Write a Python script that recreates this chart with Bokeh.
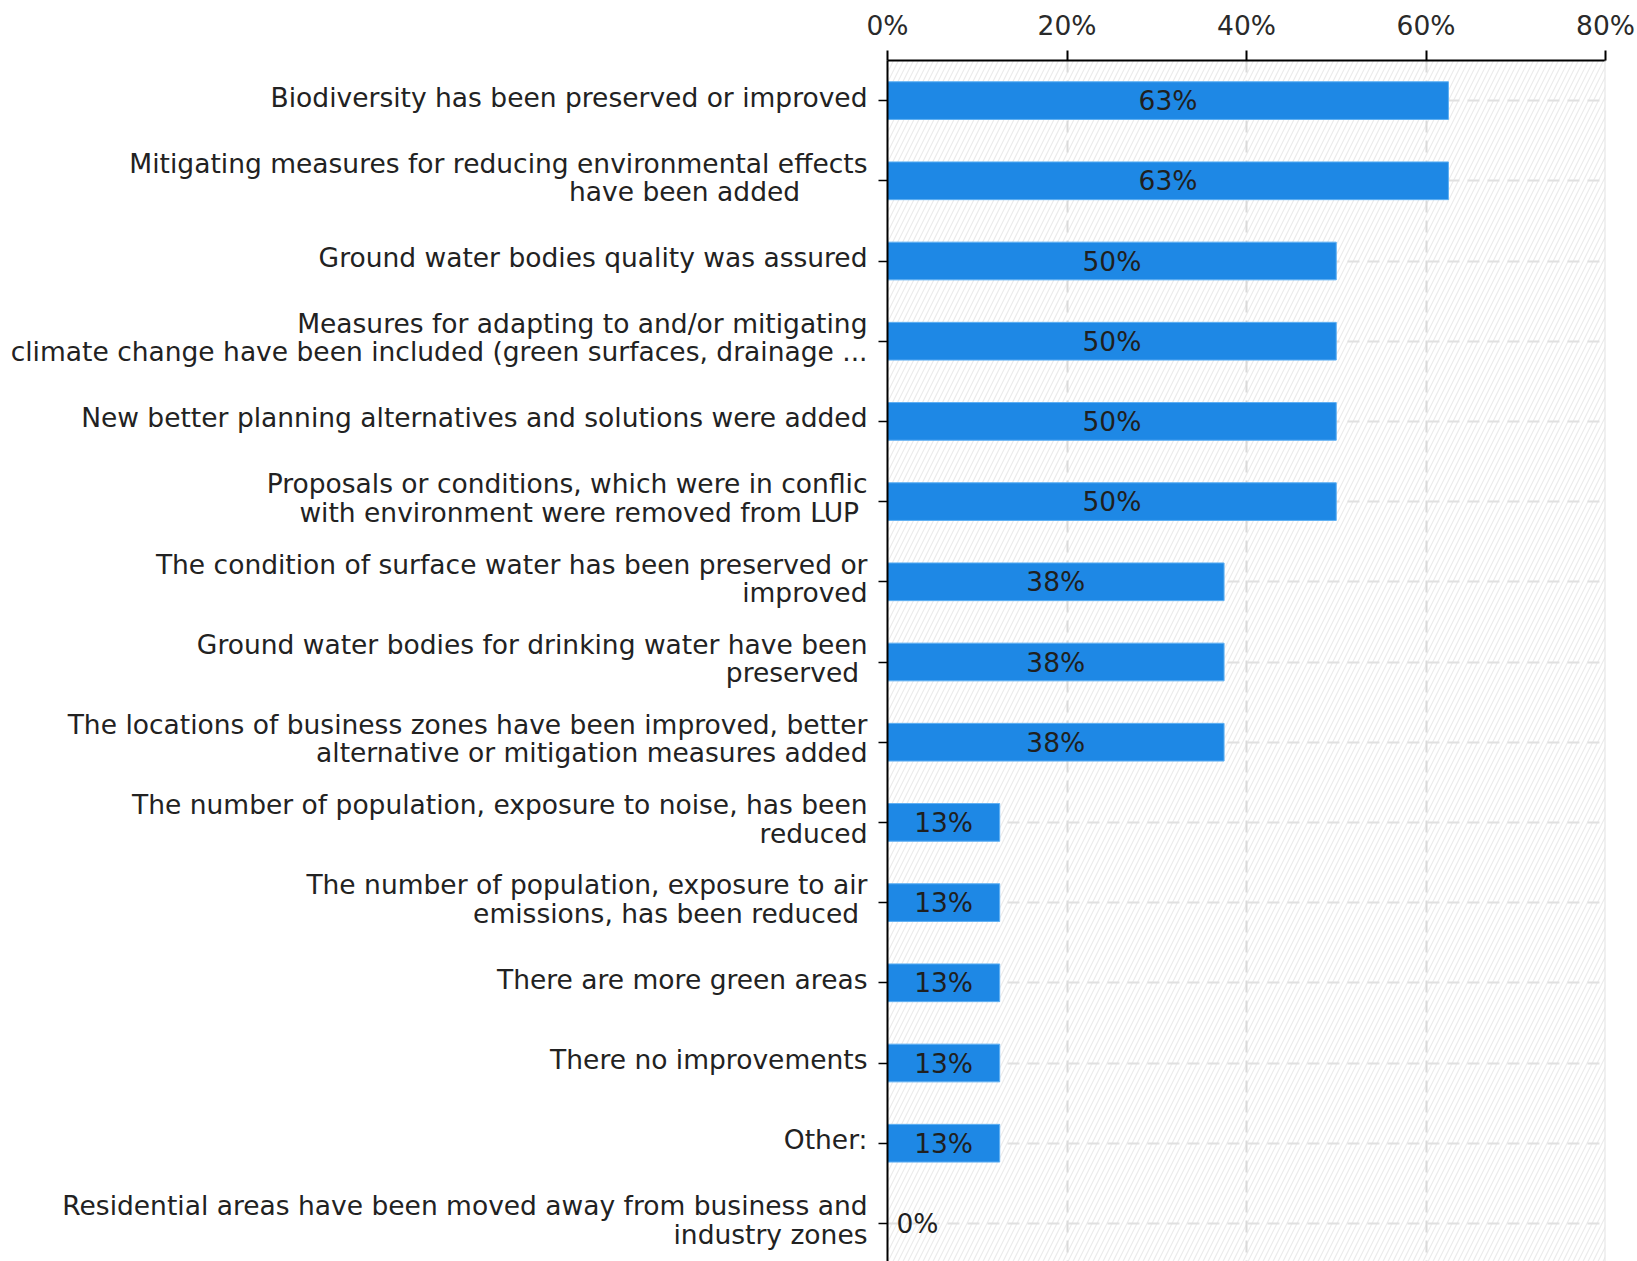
from bokeh.plotting import figure
from bokeh.models import (Range1d, FixedTicker, PrintfTickFormatter, ColumnDataSource,
                          BoxAnnotation, Span, LabelSet, LinearAxis, Arrow)
from bokeh.embed import file_html
from bokeh.resources import INLINE
from bokeh.core.properties import value

NB = "\u00a0"
categories = [
    "Biodiversity has been preserved or improved",
    "Mitigating measures for reducing environmental effects\nhave been added" + NB * 8,
    "Ground water bodies quality was assured",
    "Measures for adapting to and/or mitigating\nclimate change have been included (green surfaces, drainage ...",
    "New better planning alternatives and solutions were added",
    "Proposals or conditions, which were in conflic\nwith environment were removed from LUP" + NB,
    "The condition of surface water has been preserved or\nimproved",
    "Ground water bodies for drinking water have been\npreserved" + NB,
    "The locations of business zones have been improved, better\nalternative or mitigation measures added",
    "The number of population, exposure to noise, has been\nreduced",
    "The number of population, exposure to air\nemissions, has been reduced" + NB,
    "There are more green areas",
    "There no improvements",
    "Other:",
    "Residential areas have been moved away from business and\nindustry zones",
]
values = [62.5, 62.5, 50, 50, 50, 50, 37.5, 37.5, 37.5, 12.5, 12.5, 12.5, 12.5, 12.5, 0]
x_ticks = [0, 20, 40, 60, 80]
stamp = "LJ·18·10·2024"

FONT = "DejaVu Sans"
FS = "26.5px"
W, H = 1637, 1261
left_b, right_b, top_b = 887, 32, 60
row_px = 80.2
frame_h = H - top_b
n = len(categories)
label_lift = 3.5 / row_px   # labels sit a little above their tick
px_per_x = (W - left_b - right_b) / (x_ticks[-1] - x_ticks[0])


def data_x(px):
    return x_ticks[0] + (px - left_b) / px_per_x


def data_y(py):
    return (py - top_b) / row_px


centers = [i + 0.5 for i in range(n)]
label_pos = [c - label_lift for c in centers]
labels = [f"{int(v + 0.5)}%" for v in values]
lab_x = [v / 2 if v > 0 else 0 for v in values]
lab_align = ["center" if v > 0 else "left" for v in values]
lab_off = [0 if v > 0 else 9 for v in values]

src = ColumnDataSource(dict(y=centers, v=values, lab=labels, lx=lab_x,
                            align=lab_align, off=lab_off))

p = figure(width=W, height=H, output_backend="svg", toolbar_location=None,
           x_range=Range1d(x_ticks[0], x_ticks[-1]),
           y_range=Range1d(frame_h / row_px, 0),
           x_axis_location="above",
           min_border_left=left_b, min_border_right=right_b,
           min_border_top=top_b, min_border_bottom=0)
p.outline_line_color = None
p.background_fill_color = "white"

# hatched background
hatch = BoxAnnotation(fill_alpha=0, line_alpha=0, hatch_pattern="/",
                      hatch_color="#ebebeb", hatch_scale=10, hatch_weight=1.2,
                      level="image")
p.add_layout(hatch)

# grids
p.xgrid.ticker = FixedTicker(ticks=x_ticks[1:-1])
p.xgrid.grid_line_color = "#dadada"
p.xgrid.grid_line_width = 2
p.xgrid.grid_line_dash = "12 8"
p.ygrid.ticker = FixedTicker(ticks=centers)
p.ygrid.grid_line_color = "#e0e0e0"
p.ygrid.grid_line_width = 2
p.ygrid.grid_line_dash = "12 8"

p.add_layout(Span(location=x_ticks[-1], dimension="height",
                  line_color="#e3e3e3", line_width=2))

# bars
p.hbar(y="y", right="v", left=0, height=0.47, source=src,
       fill_color="#1e88e5", line_color="#5fb0f3", line_width=1)

p.text(x="lx", y="y", text="lab", source=src, text_align="align",
       x_offset="off", text_baseline="middle", text_font=value(FONT),
       text_font_size=FS, text_color="#1f1f1f")

# x axis (top)
xa = p.xaxis[0]
xa.ticker = FixedTicker(ticks=x_ticks)
xa.formatter = PrintfTickFormatter(format="%d%%")
xa.axis_line_color = "black"
xa.axis_line_width = 2
xa.major_tick_line_color = "black"
xa.major_tick_line_width = 2
xa.major_tick_out = 10
xa.major_tick_in = 0
xa.minor_tick_line_color = None
xa.major_label_standoff = 10
xa.major_label_text_font = FONT
xa.major_label_text_font_size = FS
xa.major_label_text_color = "#2a2a2a"

# y axis (left): line + ticks only
ya = p.yaxis[0]
ya.ticker = FixedTicker(ticks=centers)
ya.major_label_overrides = {c: "" for c in centers}
ya.axis_line_color = "black"
ya.axis_line_width = 2
ya.major_tick_line_color = "black"
ya.major_tick_line_width = 1.5
ya.major_tick_out = 9
ya.major_tick_in = 0
ya.minor_tick_line_color = None
ya.major_label_standoff = 0

# y labels on their own axis
yl = LinearAxis(ticker=FixedTicker(ticks=label_pos),
                major_label_overrides={c: t for c, t in zip(label_pos, categories)},
                axis_line_color=None, major_tick_line_color=None,
                minor_tick_line_color=None, major_tick_out=0, major_tick_in=0,
                major_label_standoff=11, major_label_text_font=FONT,
                major_label_text_font_size=FS, major_label_text_color="#222222",
                major_label_text_line_height=0.91)
p.add_layout(yl, "left")

# stamp in the top-left corner (side panel, not clipped to the frame)
RED = "#e8202a"
for x0, x1 in [(0, 28), (51, 72)]:
    mid = data_x((x0 + x1) / 2)
    p.add_layout(Arrow(end=None, x_start=mid, x_end=mid,
                       y_start=data_y(-14), y_end=data_y(17),
                       line_color=RED, line_width=x1 - x0), "above")
stamp_src = ColumnDataSource(dict(x=[data_x(83)], y=[data_y(23)], t=[stamp]))
p.add_layout(LabelSet(x="x", y="y", text="t", source=stamp_src,
                      text_font=value("Liberation Sans"), text_font_size=value("28px"),
                      text_color="#333333", text_baseline="bottom",
                      text_align="left"), "above")

open("out.html", "w").write(file_html(p, INLINE))
